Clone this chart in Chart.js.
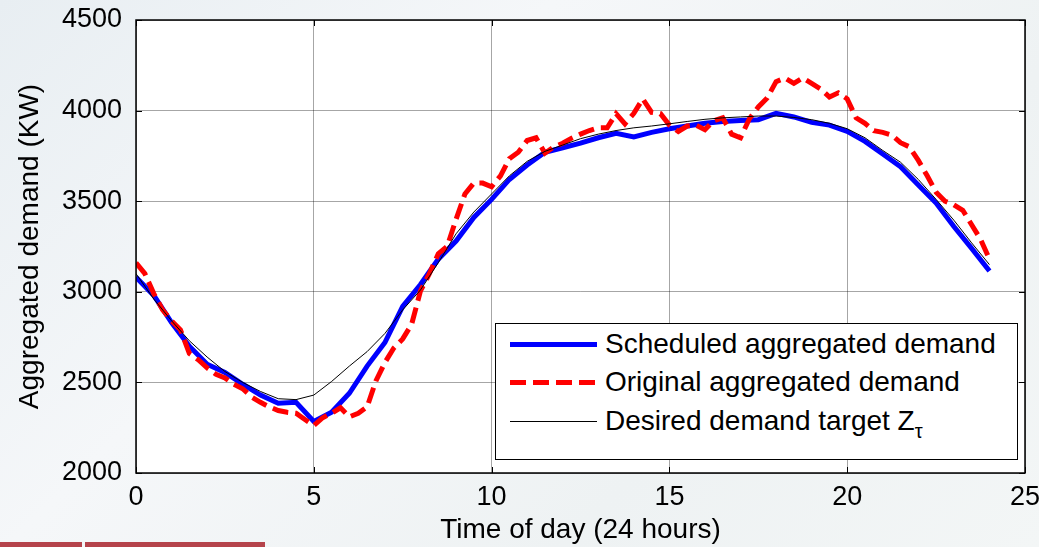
<!DOCTYPE html>
<html lang="en">
<head>
<meta charset="UTF-8">
<title>Aggregated demand</title>
<script src="https://cdn.jsdelivr.net/npm/chart.js"></script>
<style>
  html, body { margin: 0; padding: 0; }
  body {
    width: 1039px; height: 547px; overflow: hidden; position: relative;
    background: linear-gradient(135deg, #e8eef2 0%, #f5f7f9 35%, #eef2f3 70%, #f3f6f6 100%);
    font-family: "Liberation Sans", Arial, sans-serif;
  }
  #myChart { position: absolute; left: 0; top: 0; }
  #legend {
    position: absolute; left: 495px; top: 323px; width: 523px; height: 137px;
    background: #fff; border: 1.5px solid #000; box-sizing: border-box;
  }
  .row { position: absolute; left: 0; width: 100%; height: 36px; }
  .sample { position: absolute; left: 14px; width: 87px; top: 50%; }
  .label { position: absolute; left: 109px; top: 50%; transform: translateY(-50%);
    font-size: 28px; color: #000; white-space: nowrap; }
  .label sub { font-size: 20px; vertical-align: -8px; line-height: 0; }
  .bar { position: absolute; top: 542px; height: 5px; background: #b5434b; }
</style>
</head>
<body>

<canvas id="myChart" width="1039" height="547"></canvas>

<div id="legend">
  <div class="row" style="top:2px">
    <div class="sample" style="height:5px;margin-top:-2px;background:#0000ff"></div>
    <div class="label">Scheduled aggregated demand</div>
  </div>
  <div class="row" style="top:40px">
    <div class="sample" style="height:5px;margin-top:-2px;background:repeating-linear-gradient(90deg,#ff0000 0 16px,transparent 16px 23px)"></div>
    <div class="label">Original aggregated demand</div>
  </div>
  <div class="row" style="top:79px">
    <div class="sample" style="height:1px;background:#000"></div>
    <div class="label">Desired demand target Z<sub>τ</sub></div>
  </div>
</div>

<div class="bar" style="left:0;width:82px"></div>
<div class="bar" style="left:85px;width:180px"></div>

<script>
// time axis (hours)
var hours = [0, 0.5, 1, 1.5, 2, 2.5, 3, 3.5, 4, 4.5, 5, 5.5, 6, 6.5, 7, 7.5, 8, 8.5, 9, 9.5,
    10, 10.5, 11, 11.5, 12, 12.5, 13, 13.5, 14, 14.5, 15, 15.5, 16, 16.5, 17, 17.5, 18, 18.5, 19, 19.5,
    20, 20.5, 21, 21.5, 22, 22.5, 23, 23.5, 24];

var redHours = [0, 0.25, 0.5, 0.75, 1, 1.25, 1.5, 1.75, 2, 2.25, 2.5, 2.75, 3, 3.25, 3.5, 3.75,
    4, 4.25, 4.5, 4.75, 5, 5.25, 5.5, 5.75, 6, 6.25, 6.5, 6.75, 7, 7.25, 7.5, 7.75,
    8, 8.25, 8.5, 8.75, 9, 9.25, 9.5, 9.75, 10, 10.25, 10.5, 10.75, 11, 11.25, 11.5, 11.75,
    12, 12.25, 12.5, 12.75, 13, 13.25, 13.5, 13.75, 14, 14.25, 14.5, 14.75, 15, 15.25, 15.5, 15.75,
    16, 16.25, 16.5, 16.75, 17, 17.25, 17.5, 17.75, 18, 18.25, 18.5, 18.75, 19, 19.25, 19.5, 19.75,
    20, 20.25, 20.5, 20.75, 21, 21.25, 21.5, 21.75, 22, 22.25, 22.5, 22.75, 23, 23.25, 23.5, 23.75, 24];

// Desired demand target Z_tau
var targetDemand = [3100, 2960, 2840, 2730, 2640, 2560, 2500, 2450, 2410, 2405,
    2430, 2505, 2590, 2670, 2770, 2900, 3010, 3160, 3320, 3440,
    3540, 3640, 3720, 3775, 3810, 3845, 3870, 3890, 3905, 3915,
    3927, 3940, 3952, 3960, 3965, 3970, 3970, 3962, 3950, 3930,
    3900, 3850, 3780, 3715, 3620, 3510, 3395, 3270, 3150];

// Scheduled aggregated demand
var scheduledDemand = [3080, 2980, 2830, 2700, 2600, 2555, 2490, 2430, 2385, 2390,
    2285, 2335, 2440, 2590, 2720, 2920, 3040, 3180, 3280, 3410,
    3510, 3620, 3700, 3770, 3795, 3820, 3850, 3875, 3855, 3880,
    3900, 3915, 3930, 3940, 3945, 3950, 3985, 3965, 3935, 3920,
    3885, 3830, 3760, 3690, 3590, 3490, 3360, 3240, 3115];

// Original aggregated demand
var originalDemand = [3160, 3100, 2990, 2900, 2840, 2790, 2660, 2625, 2580, 2545, 2525, 2490, 2465, 2420, 2390, 2365,
    2345, 2335, 2330, 2295, 2262, 2305, 2330, 2360, 2310, 2330, 2365, 2510, 2610, 2690, 2740, 2820,
    3005, 3100, 3210, 3250, 3400, 3540, 3600, 3600, 3580, 3640, 3735, 3770, 3835, 3850, 3765, 3800,
    3820, 3848, 3870, 3890, 3905, 3905, 3983, 3927, 3985, 4065, 3990, 3983, 3920, 3885, 3915, 3920,
    3895, 3944, 3960, 3870, 3850, 3955, 4020, 4070, 4160, 4180, 4150, 4180, 4150, 4120, 4075, 4098,
    4065, 3960, 3930, 3889, 3880, 3865, 3823, 3800, 3725, 3640, 3550, 3500, 3480, 3450, 3370, 3290, 3180];

var xTicks = [0, 5, 10, 15, 20, 25];
var yTicks = [2000, 2500, 3000, 3500, 4000, 4500];

function toPoints(xs, ys) {
    return xs.map(function(x, i) { return { x: x, y: ys[i] }; });
}

// white plot area, black box with inward ticks (matlab style)
var plotFrame = {
    id: 'plotFrame',
    beforeDraw: function(chart) {
        var a = chart.chartArea, c = chart.ctx;
        c.save();
        c.fillStyle = '#ffffff';
        c.fillRect(a.left, a.top, a.right - a.left, a.bottom - a.top);
        c.restore();
    },
    afterDraw: function(chart) {
        var a = chart.chartArea, c = chart.ctx;
        var xs = chart.scales.x, ys = chart.scales.y;
        c.save();
        c.strokeStyle = '#000';
        c.lineWidth = 1.5;
        c.strokeRect(a.left, a.top, a.right - a.left, a.bottom - a.top);
        c.lineWidth = 1;
        c.beginPath();
        xTicks.forEach(function(t) {
            var px = Math.round(xs.getPixelForValue(t)) + 0.5;
            c.moveTo(px, a.bottom); c.lineTo(px, a.bottom - 6);
            c.moveTo(px, a.top); c.lineTo(px, a.top + 6);
        });
        yTicks.forEach(function(t) {
            var py = Math.round(ys.getPixelForValue(t)) + 0.5;
            c.moveTo(a.left, py); c.lineTo(a.left + 6, py);
            c.moveTo(a.right, py); c.lineTo(a.right - 6, py);
        });
        c.stroke();
        c.restore();
    }
};

var ctx = document.getElementById('myChart').getContext('2d');
var myChart = new Chart(ctx, {
    type: 'line',
    data: {
        datasets: [{
            label: 'Desired demand target Z\u03c4',
            data: toPoints(hours, targetDemand),
            borderColor: '#000000',
            borderWidth: 1,
            pointRadius: 0,
            tension: 0
        }, {
            label: 'Original aggregated demand',
            data: toPoints(redHours, originalDemand),
            borderColor: '#ff0000',
            borderWidth: 5,
            borderDash: [16, 7],
            pointRadius: 0,
            tension: 0
        }, {
            label: 'Scheduled aggregated demand',
            data: toPoints(hours, scheduledDemand),
            borderColor: '#0000ff',
            borderWidth: 5,
            pointRadius: 0,
            tension: 0
        }]
    },
    options: {
        responsive: false,
        animation: false,
        layout: { padding: { top: 20, right: 14, left: 0, bottom: 0 } },
        plugins: {
            legend: { display: false },
            tooltip: { enabled: false }
        },
        scales: {
            x: {
                type: 'linear',
                min: 0,
                max: 25,
                afterBuildTicks: function(scale) {
                    scale.ticks = xTicks.map(function(v) { return { value: v }; });
                },
                afterFit: function(scale) {
                    scale.height = 74;
                    scale.paddingLeft = 0;
                    scale.paddingRight = 0;
                },
                grid: { color: 'rgba(0,0,0,0.35)', lineWidth: 1, drawTicks: false },
                border: { display: false },
                ticks: {
                    color: '#000',
                    padding: 8,
                    maxRotation: 0,
                    callback: function(v) { return String(v); },
                    font: { family: 'Liberation Sans', size: 27 }
                },
                title: {
                    display: true,
                    text: 'Time of day (24 hours)',
                    color: '#000',
                    padding: { top: 0, bottom: 0 },
                    font: { family: 'Liberation Sans', size: 28 }
                }
            },
            y: {
                type: 'linear',
                min: 2000,
                max: 4500,
                afterBuildTicks: function(scale) {
                    scale.ticks = yTicks.map(function(v) { return { value: v }; });
                },
                afterFit: function(scale) {
                    scale.width = 136;
                    scale.paddingTop = 0;
                    scale.paddingBottom = 0;
                },
                grid: { color: 'rgba(0,0,0,0.35)', lineWidth: 1, drawTicks: false },
                border: { display: false },
                ticks: {
                    color: '#000',
                    padding: 14,
                    callback: function(v) { return String(v); },
                    font: { family: 'Liberation Sans', size: 27 }
                },
                title: {
                    display: true,
                    text: 'Aggregated demand (KW)',
                    color: '#000',
                    padding: { top: 13, bottom: 0 },
                    font: { family: 'Liberation Sans', size: 28 }
                }
            }
        }
    },
    plugins: [plotFrame]
});
</script>

</body>
</html>
